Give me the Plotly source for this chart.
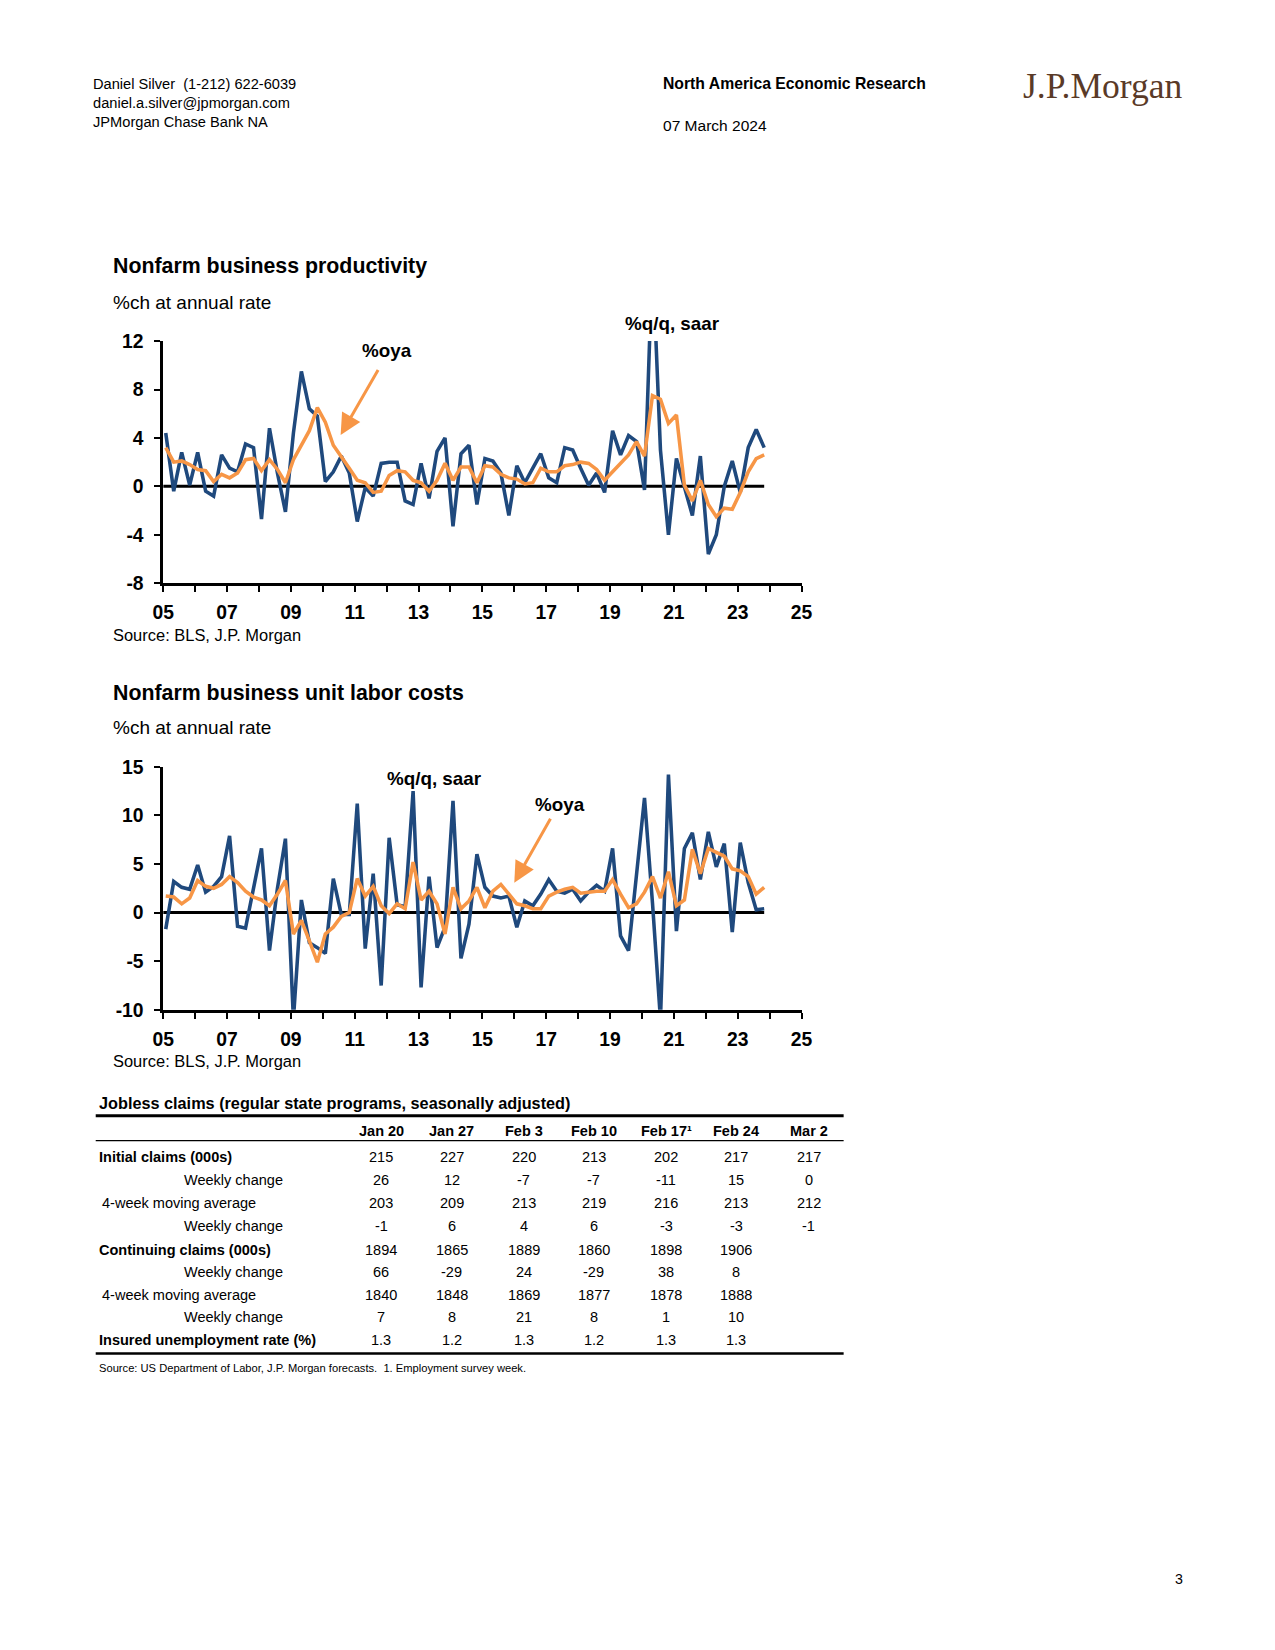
import plotly.graph_objects as go

# figure size (the page adds an 8px body margin around it)
W, H = 1259, 1634
# empirical mapping from intended page pixels to figure pixels
AX, BX = 0.98, 11.5
AY, BY = 0.988, 9.3
FS = 1 / 0.984  # font/line compensation

# ---------------- data ----------------
start_year = 2005  # first observation: 2005Q1, quarterly through 2023Q4

prod_qq = [4.4, -0.4, 2.8, 0.1, 2.8, -0.4, -0.8, 2.6, 1.5, 1.2, 3.5, 3.2, -2.7, 4.8, 1.1, -2.1,
           4.4, 9.5, 6.4, 5.8, 0.4, 1.2, 2.5, 1.1, -2.9, -0.1, -0.8, 1.9, 2.0, 2.0, -1.2, -1.5,
           1.9, -1.0, 2.9, 4.0, -3.3, 2.7, 3.4, -1.5, 2.3, 2.1, 1.1, -2.4, 1.7, 0.3, 1.5, 2.7,
           0.7, 0.3, 3.2, 3.0, 1.5, 0.1, 1.1, -0.5, 4.6, 2.6, 4.2, 3.7, -0.3, 19.0, 3.0, -4.0,
           2.3, 0.0, -2.4, 2.5, -5.6, -4.0, 0.0, 2.1, -0.5, 3.2, 4.7, 3.2]

prod_oya = [3.2, 2.0, 2.1, 1.8, 1.4, 1.3, 0.4, 1.0, 0.7, 1.1, 2.2, 2.3, 1.3, 2.2, 1.4, 0.3,
            2.2, 3.4, 4.6, 6.5, 5.3, 3.4, 2.5, 1.5, 0.5, 0.3, -0.5, -0.4, 0.9, 1.3, 1.2, 0.5,
            0.3, -0.4, 0.5, 1.9, 0.5, 1.6, 1.6, 0.3, 1.7, 1.6, 1.0, 0.7, 0.6, 0.2, 0.3, 1.5,
            1.2, 1.2, 1.7, 1.8, 2.0, 1.9, 1.4, 0.5, 1.2, 1.9, 2.6, 3.7, 2.5, 7.5, 7.2, 5.2,
            5.9, 0.1, -1.2, 0.5, -1.5, -2.5, -1.8, -1.9, -0.5, 1.2, 2.3, 2.6]

ulc_qq = [-1.7, 3.2, 2.6, 2.4, 4.9, 2.1, 2.7, 3.7, 7.9, -1.4, -1.6, 2.4, 6.6, -3.9, 2.5, 7.6,
          -11.0, 1.3, -3.1, -3.6, -4.2, 3.5, -0.2, -0.2, 11.2, -3.7, 4.0, -7.5, 7.7, 0.8, 0.6, 12.5,
          -7.7, 3.7, -3.6, -1.5, 11.5, -4.7, -1.2, 6.0, 2.6, 1.7, 1.5, 1.7, -1.5, 1.2, 0.7, 1.9,
          3.4, 2.2, 2.0, 2.4, 1.2, 2.1, 2.8, 2.2, 6.6, -2.4, -3.9, 3.9, 11.8, 1.0, -11.0, 14.2,
          -1.9, 6.6, 8.2, 3.4, 8.3, 4.7, 7.1, -2.0, 7.2, 3.1, 0.3, 0.4]

ulc_oya = [1.7, 1.6, 0.9, 1.5, 3.3, 2.7, 2.5, 2.9, 3.7, 3.1, 2.2, 1.6, 1.3, 0.7, 1.9, 3.3,
           -2.2, -0.8, -2.9, -5.1, -2.2, -1.5, -0.4, 0.0, 3.5, 1.7, 2.7, 0.7, -0.1, 0.9, 0.4, 5.2,
           1.3, 2.2, 0.9, -2.2, 2.6, 0.4, 1.2, 2.6, 0.5, 2.2, 2.9, 1.9, 0.9, 0.7, 0.4, 0.4,
           1.7, 2.1, 2.4, 2.6, 2.0, 2.1, 2.2, 2.2, 3.4, 1.9, 0.5, 0.9, 2.1, 3.7, 1.5, 4.2,
           0.7, 1.3, 6.5, 4.0, 6.6, 6.2, 5.8, 4.5, 4.3, 3.7, 1.9, 2.6]

year_tickvals = [2005, 2007, 2009, 2011, 2013, 2015, 2017, 2019, 2021, 2023, 2025]
year_ticktext = ["05", "07", "09", "11", "13", "15", "17", "19", "21", "23", "25"]
prod_yticks = [-8, -4, 0, 4, 8, 12]
ulc_yticks = [-10, -5, 0, 5, 10, 15]

table_cols = ["Jan 20", "Jan 27", "Feb 3", "Feb 10", "Feb 17\u00b9", "Feb 24", "Mar 2"]
row_labels = ["Initial claims (000s)", "Weekly change", "4-week moving average", "Weekly change",
              "Continuing claims (000s)", "Weekly change", "4-week moving average", "Weekly change",
              "Insured unemployment rate (%)"]
initial_claims = [215, 227, 220, 213, 202, 217, 217]
initial_chg = [26, 12, -7, -7, -11, 15, 0]
initial_4wk = [203, 209, 213, 219, 216, 213, 212]
initial_4wk_chg = [-1, 6, 4, 6, -3, -3, -1]
cont_claims = [1894, 1865, 1889, 1860, 1898, 1906, None]
cont_chg = [66, -29, 24, -29, 38, 8, None]
cont_4wk = [1840, 1848, 1869, 1877, 1878, 1888, None]
cont_4wk_chg = [7, 8, 21, 8, 1, 10, None]
insured_rate = [1.3, 1.2, 1.3, 1.2, 1.3, 1.3, None]

# ---------------- styling ----------------
FONT = "Liberation Sans, Arial, sans-serif"
SERIF = "Liberation Serif, Times New Roman, serif"
BLUE = "#1F497D"
ORANGE = "#F79646"
LW = 3.5 * FS

xq = [start_year + i / 4 + 0.08 for i in range(len(prod_qq))]

fig = go.Figure()

# chart 1
fig.add_trace(go.Scatter(x=xq, y=prod_qq, mode="lines", line=dict(color=BLUE, width=LW),
                         xaxis="x", yaxis="y", showlegend=False, hoverinfo="skip"))
fig.add_trace(go.Scatter(x=xq, y=prod_oya, mode="lines", line=dict(color=ORANGE, width=LW),
                         xaxis="x", yaxis="y", showlegend=False, hoverinfo="skip"))
# chart 2
fig.add_trace(go.Scatter(x=xq, y=ulc_qq, mode="lines", line=dict(color=BLUE, width=LW),
                         xaxis="x2", yaxis="y2", showlegend=False, hoverinfo="skip"))
fig.add_trace(go.Scatter(x=xq, y=ulc_oya, mode="lines", line=dict(color=ORANGE, width=LW),
                         xaxis="x2", yaxis="y2", showlegend=False, hoverinfo="skip"))


def px(x):
    return ((x - BX) / AX) / W


def py(y):
    return 1 - ((y - BY) / AY) / H


tickfont = dict(family=FONT, size=19 * FS, color="black", weight="bold")
xcommon = dict(range=[2005, 2025], tickmode="array", tickvals=year_tickvals, ticktext=year_ticktext,
               showline=True, linecolor="black", linewidth=2.5, ticks="outside", ticklen=6,
               tickwidth=2, tickcolor="black", showgrid=False, zeroline=False, tickfont=tickfont,
               minor=dict(ticks="outside", ticklen=6, tickwidth=2, tickcolor="black", dtick=1,
                          tick0=2005, showgrid=False),
               ticklabelstandoff=4, fixedrange=True)
ycommon = dict(showline=True, linecolor="black", linewidth=2.5, ticks="outside", ticklen=6,
               tickwidth=2, tickcolor="black", showgrid=False, zeroline=False, tickfont=tickfont,
               tickmode="array", ticklabelstandoff=7, fixedrange=True)

fig.update_layout(
    width=W, height=H, autosize=False,
    margin=dict(l=0, r=0, t=0, b=0),
    paper_bgcolor="white", plot_bgcolor="white",
    xaxis=dict(domain=[px(163.3), px(800)], anchor="y", **xcommon),
    yaxis=dict(domain=[py(583), py(340.7)], anchor="x", range=[-8, 12], tickvals=prod_yticks,
               ticktext=[str(v) for v in prod_yticks], **ycommon),
    xaxis2=dict(domain=[px(163.3), px(800)], anchor="y2", **xcommon),
    yaxis2=dict(domain=[py(1010), py(766.7)], anchor="x2", range=[-10, 15], tickvals=ulc_yticks,
                ticktext=[str(v) for v in ulc_yticks], **ycommon),
)

# zero lines spanning the data period
for xr, yr in (("x", "y"), ("x2", "y2")):
    fig.add_shape(type="line", xref=xr, yref=yr, x0=2005, x1=xq[-1], y0=0, y1=0,
                  line=dict(color="black", width=3), layer="below")


def txt(x, y, s, size, bold=False, anchor="left", color="black", family=FONT):
    fig.add_annotation(x=px(x), y=py(y), xref="paper", yref="paper", text=s, showarrow=False,
                       xanchor=anchor, yanchor="middle",
                       font=dict(family=family, size=size * FS, color=color,
                                 weight="bold" if bold else "normal"))


# header
txt(91, 83, "Daniel Silver\u00a0 (1-212) 622-6039", 14.4)
txt(91, 102, "daniel.a.silver@jpmorgan.com", 14.4)
txt(91, 121, "JPMorgan Chase Bank NA", 14.4)
txt(660, 83, "North America Economic Research", 15.5, bold=True)
txt(660, 125, "07 March 2024", 15.3)
txt(1101, 85, "J.P.Morgan", 35, anchor="center", color="#5A3A27", family=SERIF)
txt(1176, 1580, "3", 14, anchor="center")

# chart 1 texts
txt(111, 266, "Nonfarm business productivity", 21, bold=True)
txt(111, 302, "%ch at annual rate", 18.7)
txt(111, 635, "Source: BLS, J.P. Morgan", 16.2)
txt(387, 350, "%oya", 18.5, bold=True, anchor="center")
txt(671, 323, "%q/q, saar", 18.5, bold=True, anchor="center")

# chart 2 texts
txt(111, 693, "Nonfarm business unit labor costs", 21, bold=True)
txt(111, 727, "%ch at annual rate", 18.7)
txt(111, 1061, "Source: BLS, J.P. Morgan", 16.2)
txt(434, 778, "%q/q, saar", 18.5, bold=True, anchor="center")
txt(559, 804, "%oya", 18.5, bold=True, anchor="center")

# arrows
fig.add_annotation(x=2010.56, y=4.25, ax=2011.76, ay=9.73, xref="x", yref="y", axref="x", ayref="y",
                   text="", showarrow=True, arrowhead=2, arrowsize=1.4, arrowwidth=3,
                   arrowcolor=ORANGE, standoff=0)
fig.add_annotation(x=2016.0, y=3.08, ax=2017.16, ay=9.8, xref="x2", yref="y2", axref="x2", ayref="y2",
                   text="", showarrow=True, arrowhead=2, arrowsize=1.4, arrowwidth=3,
                   arrowcolor=ORANGE, standoff=0)

# ---------------- table ----------------
tbl_left, tbl_right = 96, 842
col_x = [381, 451, 523, 593, 665, 735, 807]
header_y = 1131
row_y = [1157, 1180, 1203, 1226.5, 1250, 1272, 1295, 1317, 1340]
rows = [initial_claims, initial_chg, initial_4wk, initial_4wk_chg,
        cont_claims, cont_chg, cont_4wk, cont_4wk_chg, insured_rate]
row_bold = [True, False, False, False, True, False, False, False, True]
row_indent = [97, 182, 100, 182, 97, 182, 100, 182, 97]

txt(97, 1103, "Jobless claims (regular state programs, seasonally adjusted)", 16, bold=True)
fig.add_shape(type="line", xref="paper", yref="paper", x0=px(tbl_left), x1=px(tbl_right),
              y0=py(1116), y1=py(1116), line=dict(color="black", width=3))
fig.add_shape(type="line", xref="paper", yref="paper", x0=px(tbl_left), x1=px(tbl_right),
              y0=py(1141), y1=py(1141), line=dict(color="black", width=1.2))
fig.add_shape(type="line", xref="paper", yref="paper", x0=px(tbl_left), x1=px(tbl_right),
              y0=py(1354), y1=py(1354), line=dict(color="black", width=2.5))

for cx, c in zip(col_x, table_cols):
    txt(cx, header_y, c, 14.3, bold=True, anchor="center")

for ry, lab, vals, b, ind in zip(row_y, row_labels, rows, row_bold, row_indent):
    txt(ind, ry, lab, 14.3, bold=b)
    for cx, v in zip(col_x, vals):
        if v is not None:
            txt(cx, ry, str(v), 14.3, anchor="center")

txt(97, 1368, "Source: US Department of Labor, J.P. Morgan forecasts.\u00a0 1. Employment survey week.", 11)

fig.write_html("out.html")
